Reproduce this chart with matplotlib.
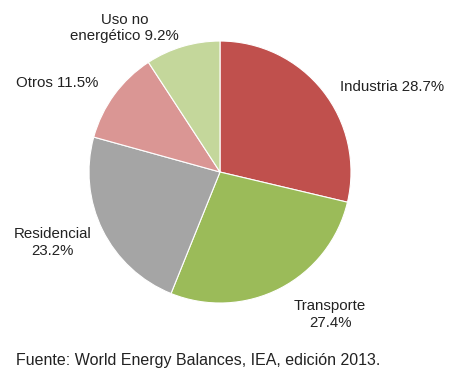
import matplotlib
matplotlib.use('Agg')
import matplotlib.pyplot as plt

# energy consumption by sector (%)
sectors = ['Industria', 'Transporte', 'Residencial', 'Otros', 'Uso no\nenergético']
shares = [28.7, 27.4, 23.2, 11.5, 9.2]
colors = ['#C0504D', '#9BBB59', '#A5A5A5', '#DA9694', '#C4D79B']
label_fmt = ['{} {}%', '{}\n{}%', '{}\n{}%', '{} {}%', '{} {}%']
label_xy = [(1.31, 0.65), (0.84, -1.09), (-1.28, -0.54), (-1.24, 0.68), (-0.73, 1.10)]

plt.rcParams['font.family'] = ['Liberation Sans', 'DejaVu Sans']

fig = plt.figure(figsize=(4.51, 3.74), dpi=100)
ax = fig.add_axes([0.1973, 0.1898, 0.581, 0.7005])
ax.pie(shares, colors=colors, startangle=90, counterclock=False,
       wedgeprops=dict(edgecolor='white', linewidth=0.8))
ax.set_xlim(-1, 1)
ax.set_ylim(-1, 1)
ax.set_aspect('equal')

for name, val, fmt, (x, y) in zip(sectors, shares, label_fmt, label_xy):
    ax.text(x, y, fmt.format(name, val), ha='center', va='center',
            fontsize=10.8, color='#222222', linespacing=1.25, clip_on=False)

fig.text(0.035, 0.037, 'Fuente: World Energy Balances, IEA, edición 2013.',
         fontsize=11.5, color='#222222', ha='left', va='center')

fig.savefig('out.png', dpi=100)
